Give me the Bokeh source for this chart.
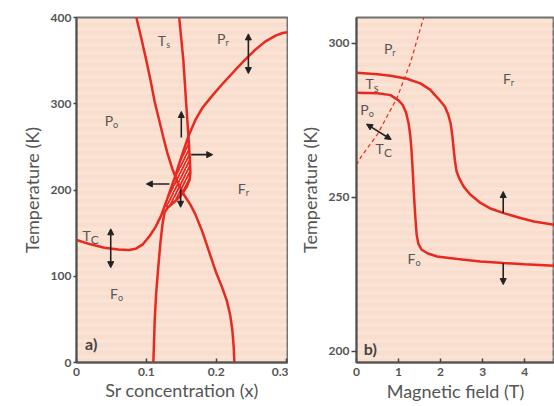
import numpy as np
from bokeh.plotting import figure
from bokeh.layouts import row
from bokeh.models import Arrow, NormalHead, Label, BoxAnnotation, FixedTicker, Range1d
from bokeh.core.properties import value
from bokeh.embed import file_html
from bokeh.resources import INLINE

RED = "#e8291f"
BG = "#f9dece"
GRAY = "#555555"
FONT = "Lato"

# ---------------- Panel a data ----------------
a_xticks = [0, 0.1, 0.2, 0.3]
a_yticks = [0, 100, 200, 300, 400]

# left steep curve
a1_x = [0.0857, 0.093, 0.100, 0.106, 0.112, 0.118, 0.124, 0.130, 0.137, 0.145, 0.155, 0.163, 0.170,
        0.180, 0.190, 0.200, 0.208, 0.215, 0.220, 0.223, 0.225, 0.226]
a1_T = [400, 375, 350, 327, 302, 282, 262, 243, 225, 208, 193, 183, 172,
        152, 128, 104, 88, 72, 55, 38, 18, 0]
# Ts curve
ts_x = [0.147, 0.150, 0.153, 0.155, 0.157, 0.159, 0.161, 0.1625, 0.163, 0.162, 0.158, 0.150, 0.140,
        0.131, 0.126, 0.123, 0.120, 0.117, 0.114, 0.112, 0.111, 0.110]
ts_T = [400, 375, 350, 325, 300, 277, 252, 232, 220, 212, 204, 194, 186,
        180, 174, 160, 138, 110, 80, 50, 25, 0]
# Tc curve
tc_x = [0.0, 0.02, 0.04, 0.06, 0.075, 0.085, 0.095, 0.105, 0.113, 0.121, 0.130, 0.140, 0.150,
        0.160, 0.170, 0.180, 0.195, 0.210, 0.226, 0.240, 0.255, 0.270, 0.285, 0.295, 0.302]
tc_T = [142, 137, 133, 131, 130.5, 132, 137, 147, 157, 170, 190, 213, 238,
        262, 281, 295, 310, 324, 338, 350, 362, 372, 379, 382, 383]
# hatched lens boundary
lens_x = [0.127, 0.130, 0.140, 0.150, 0.160, 0.161, 0.1625, 0.163, 0.162, 0.158, 0.150, 0.140, 0.131, 0.127]
lens_T = [180, 190, 213, 238, 262, 252, 232, 220, 212, 204, 194, 186, 180, 180]

# arrows
a_arr_x0 = [0.246, 0.049, 0.150, 0.164, 0.133, 0.149]
a_arr_T0 = [335, 110, 261, 241, 207, 201]
a_arr_x1 = [0.246, 0.049, 0.150, 0.195, 0.100, 0.149]
a_arr_T1 = [381, 155, 291, 241, 207, 180]
a_arr_dbl = [True, True, False, False, False, False]

a_lab_main = ["T", "P", "P", "F", "T", "F"]
a_lab_sub = ["s", "r", "o", "r", "C", "o"]
a_lab_x = [0.124, 0.209, 0.048, 0.238, 0.016, 0.055]
a_lab_T = [373, 376, 281, 202, 147, 80]
a_sub_size = ["9px", "9px", "9px", "9px", "12px", "9px"]

# ---------------- Panel b data ----------------
b_xticks = [0, 1, 2, 3, 4]
b_yticks = [200, 250, 300]

bs_H = [0, 0.5, 0.81, 1.2, 1.52, 1.75, 1.95, 2.1, 2.18, 2.24, 2.28, 2.31, 2.34, 2.38, 2.45, 2.55,
        2.7, 2.95, 3.2, 3.5, 3.9, 4.22, 4.71]
bs_T = [290.5, 290, 289.5, 288.5, 287, 285, 282, 279.5, 277, 274, 270, 266, 262, 258.5, 256, 253.5,
        251, 248.2, 246.3, 244.9, 243.3, 242.2, 241.1]
bc_H = [0, 0.5, 0.81, 1.0, 1.1, 1.18, 1.24, 1.28, 1.31, 1.34, 1.37, 1.40, 1.43, 1.47, 1.55, 1.7,
        1.92, 2.4, 2.95, 3.5, 4.0, 4.71]
bc_T = [284, 283.8, 283.2, 281.5, 280, 277.5, 274, 270, 265, 258, 250, 243.5, 238, 235, 233, 231.8,
        230.8, 230, 229.2, 228.7, 228.3, 227.8]
bd_H = [0, 0.1, 0.5, 0.97, 1.29, 1.48, 1.6]
bd_T = [260.5, 263, 270.5, 282.5, 294, 303, 308.4]

b_arr_x0 = [3.49, 3.49, 0.238]
b_arr_T0 = [244.9, 228.7, 273.8]
b_arr_x1 = [3.49, 3.49, 0.826]
b_arr_T1 = [251.9, 221.7, 268.8]
b_arr_dbl = [False, False, True]

b_lab_main = ["P", "F", "T", "P", "T", "F"]
b_lab_sub = ["r", "r", "s", "o", "C", "o"]
b_lab_x = [0.78, 3.60, 0.34, 0.22, 0.58, 1.33]
b_lab_T = [298.3, 288.7, 287, 278.5, 265.9, 230.3]
b_sub_size = ["9px", "9px", "11px", "9px", "12px", "9px"]


def style(p, xticks, yticks, ytick_out, xlabel, xlab_standoff):
    p.background_fill_color = BG
    p.border_fill_color = "white"
    p.outline_line_color = "#707070"
    p.outline_line_width = 2
    p.xgrid.visible = False
    p.ygrid.visible = False
    p.add_layout(BoxAnnotation(fill_alpha=0, line_alpha=0, hatch_pattern="horizontal_line",
                               hatch_color="white", hatch_alpha=0.18, hatch_scale=8,
                               hatch_weight=3, level="underlay"))
    for ax in (p.xaxis[0], p.yaxis[0]):
        ax.axis_line_color = "#555555"
        ax.axis_line_width = 2
        ax.major_tick_line_color = "#444444"
        ax.major_tick_line_width = 1.5
        ax.minor_tick_line_color = None
        ax.major_label_text_font = FONT
        ax.major_label_text_font_size = "12px"
        ax.major_label_text_color = GRAY
        ax.major_label_text_font_style = "bold"
        ax.axis_label_text_font = FONT
        ax.axis_label_text_font_size = "18px"
        ax.axis_label_text_font_style = "normal"
        ax.axis_label_text_color = GRAY
    p.xaxis[0].ticker = FixedTicker(ticks=xticks)
    p.yaxis[0].ticker = FixedTicker(ticks=yticks)
    p.xaxis[0].major_tick_in = 4
    p.xaxis[0].major_tick_out = 0
    p.xaxis[0].major_label_standoff = 5
    p.xaxis[0].axis_label = xlabel
    p.xaxis[0].axis_label_standoff = xlab_standoff
    p.yaxis[0].major_tick_in = 0
    p.yaxis[0].major_tick_out = ytick_out
    p.yaxis[0].major_label_standoff = 2
    p.yaxis[0].axis_label = "Temperature (K)"


def labels(p, main, sub, xs, ys, subsize):
    p.text(x=xs, y=ys, text=main, text_font=value(FONT), text_font_size="14px",
           text_color=GRAY, text_align="right", text_baseline="middle", x_offset=3)
    src = dict(x=xs, y=ys, text=sub, size=subsize)
    p.text(x="x", y="y", text="text", source=src, text_font=value(FONT), text_font_size="size",
           text_color=GRAY, text_align="left", text_baseline="middle", x_offset=3, y_offset=4)


def arrows(p, x0, y0, x1, y1, dbl):
    for a, b, c, d, e in zip(x0, y0, x1, y1, dbl):
        p.add_layout(Arrow(x_start=a, y_start=b, x_end=c, y_end=d, line_color="#222222", line_width=1.6,
                           end=NormalHead(size=6, fill_color="#222222", line_color="#222222"),
                           start=NormalHead(size=6, fill_color="#222222", line_color="#222222") if e else None))


# ---------------- figure a ----------------
pa = figure(width=288, height=405, output_backend="svg", toolbar_location=None,
            x_range=Range1d(0, 0.302), y_range=Range1d(0, 400),
            min_border_left=76, min_border_right=1, min_border_top=17, min_border_bottom=43)
style(pa, a_xticks, a_yticks, 3, "Sr concentration (x)", 0)
pa.xaxis[0].major_label_overrides = {0: "0", 0.1: "0.1", 0.2: "0.2", 0.3: "0.3"}
pa.patch(lens_x, lens_T, fill_color=None, line_color=None, hatch_pattern="/",
         hatch_color=RED, hatch_weight=1.8, hatch_scale=6)
pa.line(a1_x, a1_T, line_color=RED, line_width=2.5)
pa.line(ts_x, ts_T, line_color=RED, line_width=2.5)
pa.line(tc_x, tc_T, line_color=RED, line_width=2.5)
arrows(pa, a_arr_x0, a_arr_T0, a_arr_x1, a_arr_T1, a_arr_dbl)
labels(pa, a_lab_main, a_lab_sub, a_lab_x, a_lab_T, a_sub_size)
pa.add_layout(Label(x=0.021, y=22, text="a)", text_font=FONT, text_font_size="16px",
                    text_color="#444444", text_font_style="bold", text_align="center", text_baseline="middle"))

# ---------------- figure b ----------------
pb = figure(width=266, height=405, output_backend="svg", toolbar_location=None,
            x_range=Range1d(0, 4.71), y_range=Range1d(196.4, 308.4),
            min_border_left=68, min_border_right=0, min_border_top=17, min_border_bottom=42)
style(pb, b_xticks, b_yticks, 5, "Magnetic field (T)", 1)
pb.line(bd_H, bd_T, line_color=RED, line_width=1.2, line_dash="4 3")
pb.line(bs_H, bs_T, line_color=RED, line_width=2.5)
pb.line(bc_H, bc_T, line_color=RED, line_width=2.5)
arrows(pb, b_arr_x0, b_arr_T0, b_arr_x1, b_arr_T1, b_arr_dbl)
labels(pb, b_lab_main, b_lab_sub, b_lab_x, b_lab_T, b_sub_size)
pb.add_layout(Label(x=0.33, y=200.8, text="b)", text_font=FONT, text_font_size="16px",
                    text_color="#444444", text_font_style="bold", text_align="center", text_baseline="middle"))

layout = row(pa, pb)
open("out.html", "w").write(file_html(layout, INLINE))
